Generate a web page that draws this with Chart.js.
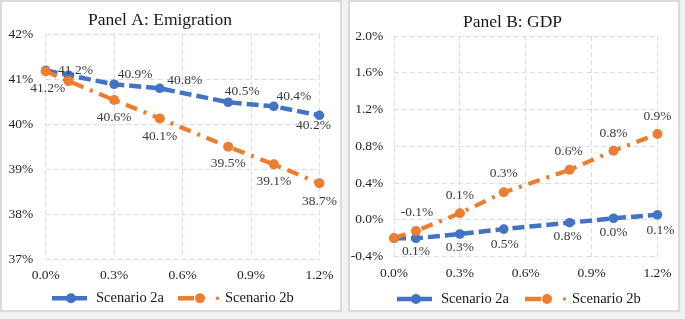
<!DOCTYPE html>
<html><head><meta charset="utf-8">
<script src="https://cdn.jsdelivr.net/npm/chart.js@4.4.0/dist/chart.umd.min.js"></script>
<style>
html,body{margin:0;padding:0;background:#f2f2f2;width:685px;height:319px;overflow:hidden;}
.panel{position:absolute;top:0;height:312px;box-sizing:border-box;border:2px solid #dadada;background:#fff;}
.wrap{position:absolute;top:0;height:312px;}
</style></head><body>
<div class="panel" style="left:0;width:342px"></div>
<div class="panel" style="left:348px;width:332px"></div>
<div class="wrap" style="left:0;width:342px"><canvas id="cA" width="342" height="312"></canvas></div>
<div class="wrap" style="left:348px;width:332px"><canvas id="cB" width="332" height="312"></canvas></div>
<script>
// ---- data ----
const xValues = [0, 0.1, 0.3, 0.5, 0.8, 1.0, 1.2];
const emig2a = [41.2, 41.09, 40.89, 40.8, 40.49, 40.4, 40.2];
const emig2b = [41.18, 40.96, 40.54, 40.13, 39.5, 39.11, 38.69];
const gdp2a = [-0.2, -0.2, -0.153, -0.10, -0.03, 0.018, 0.055];
const gdp2b = [-0.196, -0.12, 0.073, 0.30, 0.545, 0.752, 0.934];
const emigLabels2a = ['', '41.2%', '40.9%', '40.8%', '40.5%', '40.4%', '40.2%'];
const emigLabels2b = ['41.2%', '', '40.6%', '40.1%', '39.5%', '39.1%', '38.7%'];
const gdpLabels2a = ['', '0.1%', '0.3%', '0.5%', '0.8%', '0.0%', '0.1%'];
const gdpLabels2b = ['', '-0.1%', '0.1%', '0.3%', '0.6%', '0.8%', '0.9%'];
const seriesNames = ['Scenario 2a', 'Scenario 2b'];
const titles = ['Panel A: Emigration', 'Panel B: GDP'];

// ---- style ----
const BLUE = '#4472C4', ORANGE = '#ED7D31';
const SERIF = '"Liberation Serif", "Times New Roman", serif';
const GRID = '#d5ddf0';

const annot = {
  id: 'annot',
  afterDatasetsDraw(chart, args, o) {
    const ctx = chart.ctx;
    ctx.save();
    ctx.textAlign = 'center';
    ctx.textBaseline = 'middle';
    ctx.font = '13.5px ' + SERIF;
    ctx.fillStyle = '#3a3a3a';
    chart.data.datasets.forEach((ds, di) => {
      const meta = chart.getDatasetMeta(di);
      const texts = o.labels[di], offs = o.offsets[di];
      meta.data.forEach((pt, i) => {
        if (!texts[i]) return;
        const d = offs[i] || [0, 0];
        ctx.fillText(texts[i], pt.x + d[0], pt.y + d[1]);
      });
    });
    // title
    ctx.font = '17.5px ' + SERIF;
    ctx.fillStyle = '#1a1a1a';
    ctx.textBaseline = 'alphabetic';
    ctx.fillText(o.title, o.titleX, o.titleY);
    // legend
    const y = o.legendY;
    ctx.font = '14.5px ' + SERIF;
    ctx.textAlign = 'left';
    ctx.textBaseline = 'middle';
    // blue item
    let s = o.legendX[0];
    ctx.strokeStyle = BLUE; ctx.fillStyle = BLUE; ctx.lineWidth = 4.5;
    ctx.beginPath(); ctx.moveTo(s, y); ctx.lineTo(s + 35, y); ctx.stroke();
    ctx.beginPath(); ctx.arc(s + 19, y, 5, 0, Math.PI * 2); ctx.fill();
    ctx.fillStyle = '#1a1a1a';
    ctx.fillText(seriesNames[0], s + 44, y);
    // orange item
    s = o.legendX[1];
    ctx.strokeStyle = ORANGE; ctx.fillStyle = ORANGE; ctx.lineWidth = 4.5;
    ctx.beginPath(); ctx.moveTo(s, y); ctx.lineTo(s + 16, y); ctx.stroke();
    ctx.beginPath(); ctx.arc(s + 22, y, 5, 0, Math.PI * 2); ctx.fill();
    ctx.beginPath(); ctx.arc(s + 39.5, y, 1.8, 0, Math.PI * 2); ctx.fill();
    ctx.fillStyle = '#1a1a1a';
    ctx.fillText(seriesNames[1], s + 47, y);
    ctx.restore();
  }
};

function makeChart(id, ya, yb, cfg) {
  return new Chart(document.getElementById(id), {
    type: 'line',
    data: {
      datasets: [
        { label: seriesNames[0], data: xValues.map((x, i) => ({ x, y: ya[i] })),
          borderColor: BLUE, backgroundColor: BLUE, borderWidth: 4.5, borderDash: [12, 5],
          pointRadius: 4.8, pointBackgroundColor: BLUE, pointBorderColor: BLUE, pointBorderWidth: 0,
          tension: 0, clip: false, order: 1 },
        { label: seriesNames[1], data: xValues.map((x, i) => ({ x, y: yb[i] })),
          borderColor: ORANGE, backgroundColor: ORANGE, borderWidth: 4.2, borderDash: [12, 7, 3, 7],
          pointRadius: 5, pointBackgroundColor: ORANGE, pointBorderColor: ORANGE, pointBorderWidth: 0,
          tension: 0, clip: false, order: 0 }
      ]
    },
    options: {
      responsive: false, animation: false,
      layout: { padding: cfg.padding },
      plugins: { legend: { display: false }, title: { display: false }, tooltip: { enabled: false },
        annot: cfg.annot },
      scales: {
        x: { type: 'linear', min: 0, max: 1.2,
          ticks: { stepSize: 0.3, padding: 8.5, color: '#1e1e1e', font: { family: SERIF, size: 13.5 },
            callback: v => v.toFixed(1) + '%' },
          grid: { color: GRID, lineWidth: 1, drawTicks: false },
          border: { display: false, dash: [5, 3] },
          afterFit: s => { s.height = 30; } },
        y: { min: cfg.ymin, max: cfg.ymax,
          ticks: { stepSize: cfg.ystep, padding: cfg.ypad, color: '#1e1e1e', font: { family: SERIF, size: 13.5 },
            callback: cfg.yfmt },
          grid: { color: GRID, lineWidth: 1, drawTicks: false },
          border: { display: false, dash: [5, 3] },
          afterFit: s => { s.width = cfg.yw; } }
      }
    },
    plugins: [annot]
  });
}

makeChart('cA', emig2a, emig2b, {
  padding: { left: 0, top: 34.3, right: 22, bottom: 22.7 },
  ymin: 37, ymax: 42, ystep: 1, ypad: 12.4, yw: 45.7,
  yfmt: v => Math.round(v) + '%',
  annot: {
    labels: [emigLabels2a, emigLabels2b],
    offsets: [
      [null, [7, -4.5], [21, -10], [25, -8], [14, -11], [20, -10], [-6, 10]],
      [[2, 17], null, [0, 17], [0, 18], [0, 17], [0, 17], [0, 18]]
    ],
    title: titles[0], titleX: 160, titleY: 25,
    legendY: 298.3, legendX: [52, 178]
  }
});

makeChart('cB', gdp2a, gdp2b, {
  padding: { left: 0, top: 36, right: 18.3, bottom: 25.3 },
  ymin: -0.4, ymax: 2.0, ystep: 0.4, ypad: 10.7, yw: 46,
  yfmt: v => (Math.abs(v) < 1e-9 ? 0 : v).toFixed(1) + '%',
  annot: {
    labels: [gdpLabels2a, gdpLabels2b],
    offsets: [
      [null, [0, 13.5], [0, 13], [1, 15], [-2, 14], [0, 14], [3, 16]],
      [null, [1, -18], [0, -18], [0, -19], [-1, -18], [0, -17], [0, -18]]
    ],
    title: titles[1], titleX: 164.5, titleY: 26.5,
    legendY: 299, legendX: [49, 177]
  }
});
</script>
</body></html>
